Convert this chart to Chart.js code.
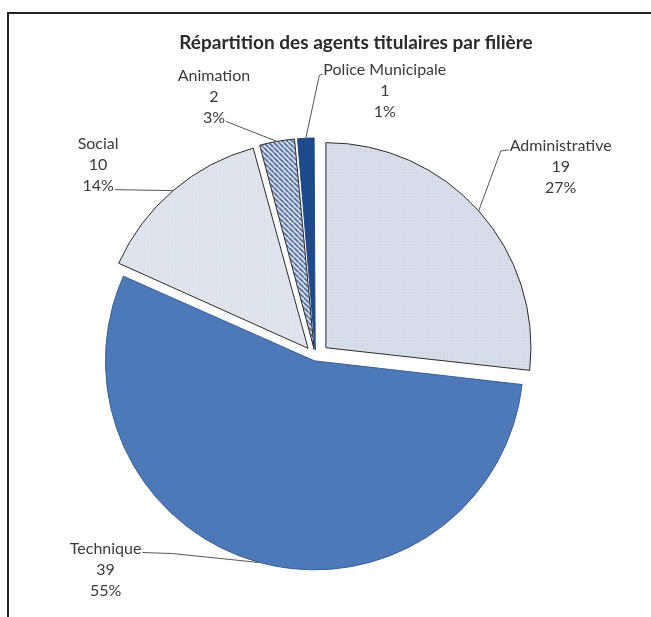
<!DOCTYPE html>
<html>
<head>
<meta charset="utf-8">
<script src="https://cdn.jsdelivr.net/npm/chart.js@4"></script>
<style>
html,body{margin:0;padding:0;background:#fff;}
#wrap{position:relative;width:651px;height:617px;}
</style>
</head>
<body>
<div id="wrap"><canvas id="c" width="651" height="617"></canvas></div>
<script>
const categories = ['Administrative', 'Technique', 'Social', 'Animation', 'Police Municipale'];
const values = [19, 39, 10, 2, 1];
const chartTitle = 'Répartition des agents titulaires par filière';

// styling (not data)
const sliceDisplacement = [14, 8, 14, 14, 14];
const labelOffsets = [[82, -44], [-154, 7], [-75, -26], [-63, -45], [79, -47]];
const leaderSpec = [
  {line: 0, side: 'left', tail: 8},
  {line: 0, side: 'right', tail: 30},
  {line: 2, side: 'right', tail: 0},
  {line: 2, side: 'right', tail: 0},
  {line: 0, side: 'left', tail: 3}
];

const total = values.reduce((a, b) => a + b, 0);
const circ = values.map(v => v / total * 2 * Math.PI);
function offsetFor(d, c) {
  const fix = 1 - Math.sin(Math.min(Math.PI, c));
  return 4 * d / (1 + fix);
}
function dispFor(off, c) {
  const fix = 1 - Math.sin(Math.min(Math.PI, c));
  return off / 4 * (1 + fix);
}

function hatchPattern() {
  const p = document.createElement('canvas');
  p.width = 5; p.height = 5;
  const g = p.getContext('2d');
  g.fillStyle = '#f4f6fa';
  g.fillRect(0, 0, 5, 5);
  g.strokeStyle = '#3a5a92';
  g.lineWidth = 1.8;
  g.beginPath();
  for (let k = -5; k <= 10; k += 5) {
    g.moveTo(k, 0); g.lineTo(k + 5, 5);
  }
  g.stroke();
  return g.createPattern(p, 'repeat');
}
function dotPattern(base, dot) {
  const p = document.createElement('canvas');
  p.width = 3; p.height = 3;
  const g = p.getContext('2d');
  g.fillStyle = base; g.fillRect(0, 0, 3, 3);
  g.fillStyle = dot; g.fillRect(0, 0, 1, 1);
  return g.createPattern(p, 'repeat');
}

const fills = [dotPattern('#d3d9e6', '#eef0f5'), '#4d79b9', dotPattern('#dde1ea', '#f3f4f8'), hatchPattern(), '#1f4a8a'];
const borders = ['#2b2b2b', '#3b5f96', '#2b2b2b', '#2b2b2b', '#1f4a8a'];

const LABEL_FONT = '16px Lato, "Liberation Sans", sans-serif';
const LINE_H = 21;

const decorPlugin = {
  id: 'decor',
  beforeDraw(chart) {
    const ctx = chart.ctx;
    ctx.save();
    ctx.fillStyle = '#fff';
    ctx.fillRect(0, 0, chart.width, chart.height);
    ctx.strokeStyle = '#222';
    ctx.lineWidth = 2;
    ctx.beginPath();
    ctx.moveTo(7, 13); ctx.lineTo(chart.width, 13);
    ctx.moveTo(8, 12); ctx.lineTo(8, chart.height);
    ctx.stroke();
    ctx.fillStyle = '#2a2a2a';
    ctx.font = 'bold 19px Lato, "Liberation Sans", sans-serif';
    ctx.textAlign = 'center';
    ctx.textBaseline = 'middle';
    ctx.fillText(chartTitle, 356, 43);
    ctx.restore();
  },
  afterDatasetsDraw(chart) {
    const ctx = chart.ctx;
    const meta = chart.getDatasetMeta(0);
    ctx.save();
    ctx.font = LABEL_FONT;
    ctx.textAlign = 'center';
    ctx.textBaseline = 'middle';
    meta.data.forEach((arc, i) => {
      const p = arc.getProps(['x', 'y', 'startAngle', 'endAngle', 'outerRadius', 'circumference']);
      const mid = (p.startAngle + p.endAngle) / 2;
      const d = dispFor(arc.options.offset || 0, p.circumference);
      const cx = p.x + Math.cos(mid) * d, cy = p.y + Math.sin(mid) * d;
      const ax = cx + Math.cos(mid) * p.outerRadius;
      const ay = cy + Math.sin(mid) * p.outerRadius;
      const lx = ax + labelOffsets[i][0], ly = ay + labelOffsets[i][1];
      const lines = [categories[i], String(values[i]), Math.round(values[i] / total * 100) + '%'];
      const y0 = ly - LINE_H;
      const spec = leaderSpec[i];
      const w = ctx.measureText(lines[spec.line]).width;
      const sy = y0 + spec.line * LINE_H + 4;
      const sx = spec.side === 'left' ? lx - w / 2 - 1 : lx + w / 2 + 1;
      const ex = spec.side === 'left' ? sx - spec.tail : sx + spec.tail;
      ctx.strokeStyle = '#555';
      ctx.lineWidth = 1;
      ctx.beginPath();
      ctx.moveTo(sx, sy);
      ctx.lineTo(ex, sy + (spec.tail ? 1 : 0));
      ctx.lineTo(ax, ay);
      ctx.stroke();
      ctx.fillStyle = '#3a3a3a';
      lines.forEach((t, k) => ctx.fillText(t, lx, y0 + k * LINE_H));
    });
    ctx.restore();
  }
};

new Chart(document.getElementById('c'), {
  type: 'pie',
  data: {
    labels: categories,
    datasets: [{
      data: values,
      backgroundColor: fills,
      borderColor: borders,
      borderWidth: 1,
      offset: sliceDisplacement.map((d, i) => offsetFor(d, circ[i])),
      radius: 205
    }]
  },
  options: {
    responsive: false,
    devicePixelRatio: 1,
    animation: false,
    layout: {padding: {left: 0, right: 20, top: 97, bottom: 0}},
    plugins: {legend: {display: false}, title: {display: false}, tooltip: {enabled: false}}
  },
  plugins: [decorPlugin]
});
</script>
</body>
</html>
